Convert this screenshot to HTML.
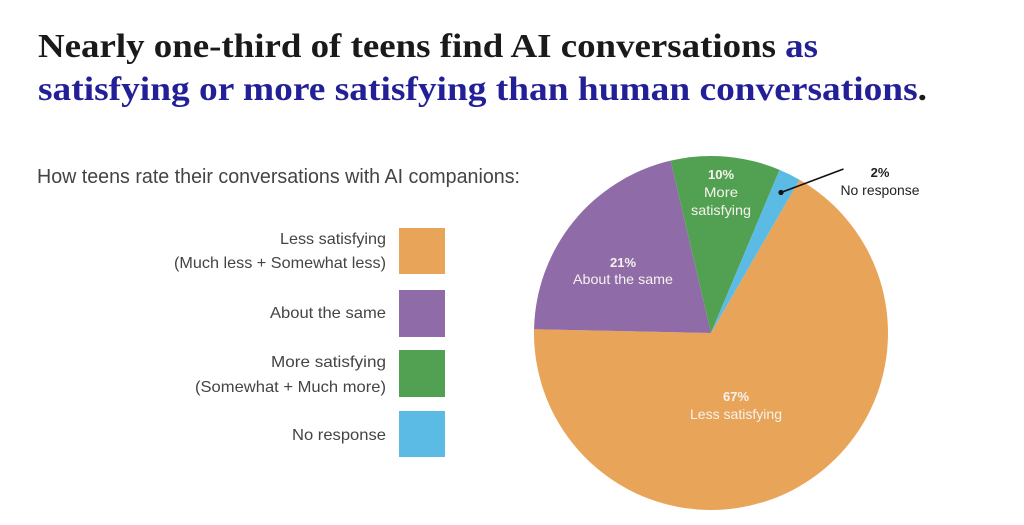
<!DOCTYPE html>
<html>
<head>
<meta charset="utf-8">
<style>
  html,body{margin:0;padding:0;background:#fff;}
  svg{display:block;}
</style>
</head>
<body>
<svg width="1024" height="525" viewBox="0 0 1024 525" xmlns="http://www.w3.org/2000/svg">
  <rect width="1024" height="525" fill="#ffffff"/>
  <!-- Title -->
  <text x="38" y="57" font-family="Liberation Serif, serif" font-weight="bold" font-size="34" fill="#1a1a1a" textLength="780" lengthAdjust="spacingAndGlyphs">Nearly one-third of teens find AI conversations <tspan fill="#231f96">as</tspan></text>
  <text x="38" y="100" font-family="Liberation Serif, serif" font-weight="bold" font-size="34" fill="#231f96" textLength="889" lengthAdjust="spacingAndGlyphs">satisfying or more satisfying than human conversations<tspan fill="#1a1a1a">.</tspan></text>

  <!-- Subtitle -->
  <text x="37" y="183" font-family="Liberation Sans, sans-serif" font-size="20" fill="#444" textLength="483" lengthAdjust="spacingAndGlyphs">How teens rate their conversations with AI companions:</text>

  <!-- Legend -->
  <g font-family="Liberation Sans, sans-serif" font-size="16" fill="#444" text-anchor="end">
    <text x="386" y="244" textLength="106" lengthAdjust="spacingAndGlyphs">Less satisfying</text>
    <text x="386" y="268" textLength="212" lengthAdjust="spacingAndGlyphs">(Much less + Somewhat less)</text>
    <text x="386" y="318" textLength="116" lengthAdjust="spacingAndGlyphs">About the same</text>
    <text x="386" y="367" textLength="115" lengthAdjust="spacingAndGlyphs">More satisfying</text>
    <text x="386" y="392" textLength="191" lengthAdjust="spacingAndGlyphs">(Somewhat + Much more)</text>
    <text x="386" y="440" textLength="94" lengthAdjust="spacingAndGlyphs">No response</text>
  </g>
  <rect x="399" y="228" width="46" height="46" fill="#e8a458"/>
  <rect x="399" y="290" width="46" height="47" fill="#8f6ba8"/>
  <rect x="399" y="350" width="46" height="47" fill="#52a152"/>
  <rect x="399" y="411" width="46" height="46" fill="#5bbbe4"/>

  <!-- Pie -->
  <path d="M711 333 L799.5 179.7 A177 177 0 1 1 534.04 329.29 Z" fill="#e8a458"/>
  <path d="M711 333 L534.04 329.29 A177 177 0 0 1 670.58 160.68 Z" fill="#8f6ba8"/>
  <path d="M711 333 L670.58 160.68 A177 177 0 0 1 779.59 169.83 Z" fill="#52a152"/>
  <path d="M711 333 L779.59 169.83 A177 177 0 0 1 799.5 179.7 Z" fill="#5bbbe4"/>

  <!-- Pie labels -->
  <g font-family="Liberation Sans, sans-serif" font-size="14" fill="#f6f3ee" text-anchor="middle">
    <text x="721" y="179" font-weight="bold" font-size="13">10%</text>
    <text x="721" y="197" textLength="34" lengthAdjust="spacingAndGlyphs">More</text>
    <text x="721" y="215" textLength="60" lengthAdjust="spacingAndGlyphs">satisfying</text>
    <text x="623" y="267" font-weight="bold" font-size="13">21%</text>
    <text x="623" y="284" textLength="100" lengthAdjust="spacingAndGlyphs">About the same</text>
    <text x="736" y="401" font-weight="bold" font-size="13">67%</text>
    <text x="736" y="419" textLength="92" lengthAdjust="spacingAndGlyphs">Less satisfying</text>
  </g>
  <g font-family="Liberation Sans, sans-serif" font-size="14" fill="#222" text-anchor="middle">
    <text x="880" y="177" font-weight="bold" font-size="13">2%</text>
    <text x="880" y="195" textLength="79" lengthAdjust="spacingAndGlyphs">No response</text>
  </g>
  <line x1="781" y1="192.5" x2="843.5" y2="169" stroke="#111" stroke-width="1.6"/>
  <circle cx="781" cy="192.5" r="2.6" fill="#111"/>
</svg>
</body>
</html>
